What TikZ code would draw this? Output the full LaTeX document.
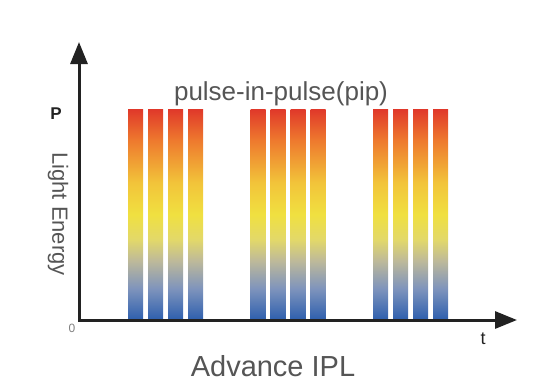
\documentclass[tikz,border=0pt]{standalone}
\usepackage{fontspec}
\setmainfont{Liberation Sans}
\usetikzlibrary{arrows.meta}
\definecolor{cRed}{HTML}{E0382A}
\definecolor{cOrange}{HTML}{EE7A2E}
\definecolor{cAmber}{HTML}{F2C43A}
\definecolor{cYellow}{HTML}{F0E040}
\definecolor{cPaleY}{HTML}{E2D86A}
\definecolor{cGrayY}{HTML}{BDB99A}
\definecolor{cGrayB}{HTML}{7F94BC}
\definecolor{cBlue}{HTML}{2D5FAE}
\definecolor{axisc}{HTML}{222222}
\definecolor{txt}{HTML}{555555}
\pgfdeclareverticalshading{pipshade}{100bp}{color(0bp)=(cBlue); color(25bp)=(cBlue); color(32.5bp)=(cGrayB); color(39bp)=(cGrayY); color(44bp)=(cPaleY); color(50bp)=(cYellow); color(57.5bp)=(cAmber); color(67.5bp)=(cOrange); color(75bp)=(cRed); color(100bp)=(cRed)}
\tikzset{
  bar/.style={shading=pipshade, draw=none},
  axisline/.style={line width=3pt, draw=axisc, line join=miter, {Triangle[length=22pt,width=17pt]}-{Triangle[length=22pt,width=17pt]}},
  lbl/.style={text=txt, inner sep=0pt},
}
\begin{document}
\begin{tikzpicture}[x=1pt,y=-1pt]
\useasboundingbox (0,0) rectangle (545,389);
\foreach \g [count=\k] in {128,250.5,373}{
  \foreach \i in {0,1,2,3}{
    \path[bar] (\g+20*\i,109) rectangle (\g+20*\i+15,320);
  }
}
\coordinate (ytop) at (79,42);
\coordinate (origin) at (79,320);
\coordinate (xend) at (517,320);
\draw[axisline] (ytop) -- (origin) -- (xend);
\node[lbl, anchor=base, font=\fontsize{26}{26}\selectfont] (title) at (281,100) {pulse-in-pulse(pip)};
\node[lbl, anchor=base, font=\fontsize{29}{29}\selectfont] (xlabel) at (273,376) {Advance IPL};
\node[inner sep=0pt, text=axisc, font=\fontsize{17}{17}\selectfont\bfseries] (P) at (56,114) {P};
\node[lbl, rotate=-90, font=\fontsize{22}{22}\selectfont] (ylabel) at (58,214) {Light Energy};
\node[inner sep=0pt, text=gray, font=\fontsize{12}{12}\selectfont] (zero) at (72,328) {0};
\node[inner sep=0pt, text=axisc, font=\fontsize{18}{18}\selectfont] (t) at (483,339) {t};
\end{tikzpicture}
\end{document}
